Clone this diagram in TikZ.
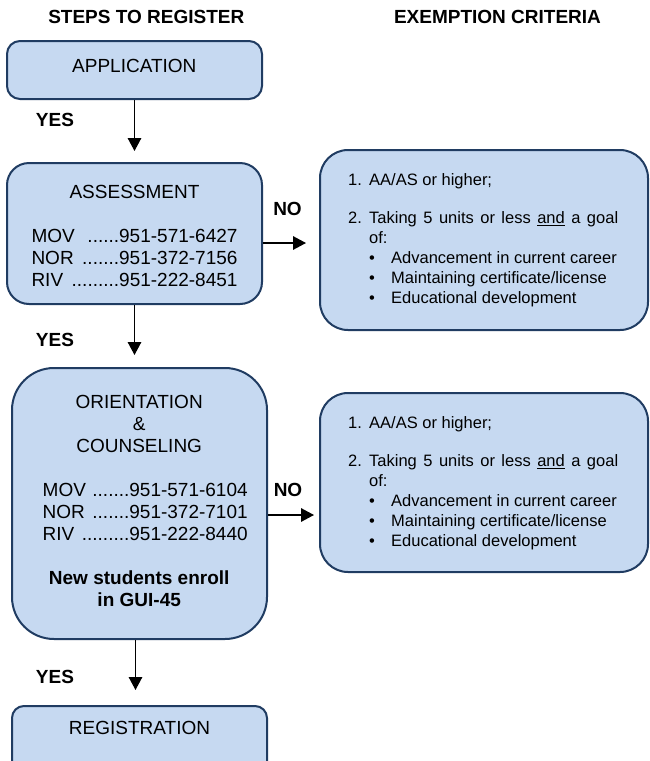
\documentclass[tikz,border=0pt]{standalone}
\usepackage{fontspec}
\setmainfont{Liberation Sans}
\usetikzlibrary{arrows.meta,calc}
\definecolor{boxfill}{HTML}{C6D9F1}
\definecolor{boxline}{HTML}{203C62}
\tikzset{
  box/.style={draw=boxline, fill=boxfill, line width=2pt, rectangle, inner sep=0pt},
  lbl/.style={font=\fontsize{19}{22}\selectfont\bfseries, inner sep=0pt},
  txt/.style={font=\fontsize{19}{22}\selectfont, inner sep=0pt, align=center},
  crit/.style={font=\fontsize{16.5}{20}\selectfont, inner sep=0pt, align=left},
  arr/.style={line width=1.5pt, -{Triangle[length=13pt,width=13.5pt]}},
}
\newcommand{\phoneline}[3][206pt]{\makebox[#1]{#2\hfill#3}}
\newcommand{\critlist}{%
  \makebox[21pt][l]{1.}AA/AS or higher;\\[18.5pt]
  \makebox[21pt][l]{2.}\makebox[249pt][s]{Taking 5 units or less \underline{and} a goal}\\
  \hspace*{21pt}of:\\
  \hspace*{21pt}\makebox[22pt][l]{\textbullet}Advancement in current career\\
  \hspace*{21pt}\makebox[22pt][l]{\textbullet}Maintaining certificate/license\\
  \hspace*{21pt}\makebox[22pt][l]{\textbullet}Educational development}
\begin{document}
\begin{tikzpicture}[x=1pt,y=-1pt]
\useasboundingbox (0,0) rectangle (650,761);
\clip (0,0) rectangle (650,761);
\fill[white] (0,0) rectangle (650,761);

% boxes
\node[box, rounded corners=13pt, minimum width=255pt, minimum height=58pt] (app) at (134.5,70) {};
\node[box, rounded corners=22pt, minimum width=255pt, minimum height=141pt] (assess) at (134.5,233.5) {};
\node[box, rounded corners=28pt, minimum width=328pt, minimum height=180pt] (crit1) at (484,240) {};
\node[box, rounded corners=42pt, minimum width=255pt, minimum height=271pt] (orient) at (139.5,503.5) {};
\node[box, rounded corners=28pt, minimum width=328pt, minimum height=179pt] (crit2) at (484,482.5) {};
\node[box, rounded corners=12pt, minimum width=255pt, minimum height=80pt] (reg) at (139.5,746) {};

% headers
\node[lbl] (h1) at (146.3,16.7) {STEPS TO REGISTER};
\node[lbl] (h2) at (497.5,17) {EXEMPTION CRITERIA};

% box texts
\node[txt] (apptxt) at (134.3,65.7) {APPLICATION};
\node[txt, anchor=north] (assesstxt) at (134.5,185) {ASSESSMENT\\[22pt]
  \phoneline{MOV}{......951-571-6427}\\
  \phoneline{NOR}{.......951-372-7156}\\
  \phoneline{RIV}{.........951-222-8451}};
\node[txt, anchor=north] (orienttxt) at (139.2,395) {ORIENTATION\\\&\\COUNSELING\\[22pt]
  \hspace*{12pt}\phoneline[205pt]{MOV}{.......951-571-6104}\\
  \hspace*{12pt}\phoneline[205pt]{NOR}{.......951-372-7101}\\
  \hspace*{12pt}\phoneline[205pt]{RIV}{.........951-222-8440}\\[22pt]
  \textbf{New students enroll}\\
  \textbf{in GUI-45}};
\node[txt] (regtxt) at (139.5,728) {REGISTRATION};
\node[crit, anchor=north west] (c1txt) at (348,173) {\critlist};
\node[crit, anchor=north west] (c2txt) at (348,416) {\critlist};

% labels
\node[lbl] (yes1) at (55,120) {YES};
\node[lbl] (yes2) at (55,340) {YES};
\node[lbl] (yes3) at (55,677) {YES};
\node[lbl] (no1) at (287.5,209) {NO};
\node[lbl] (no2) at (288,490) {NO};

% connectors
\draw[arr, shorten >=11pt] (app.south) -- (assess.north);
\draw[arr, shorten >=12pt] (assess.south) -- (assess.south |- orient.north);
\coordinate (osouth) at ($(orient.south)+(-4,0)$);
\draw[arr, shorten >=15pt] (osouth) -- (osouth |- reg.north);
\coordinate (a1) at ($(assess.east)+(0,9.5)$);
\draw[arr, shorten >=13pt] (a1) -- (a1 -| crit1.west);
\coordinate (o1) at ($(orient.east)+(0,11.5)$);
\draw[arr, shorten >=5pt] (o1) -- (o1 -| crit2.west);
\end{tikzpicture}
\end{document}
